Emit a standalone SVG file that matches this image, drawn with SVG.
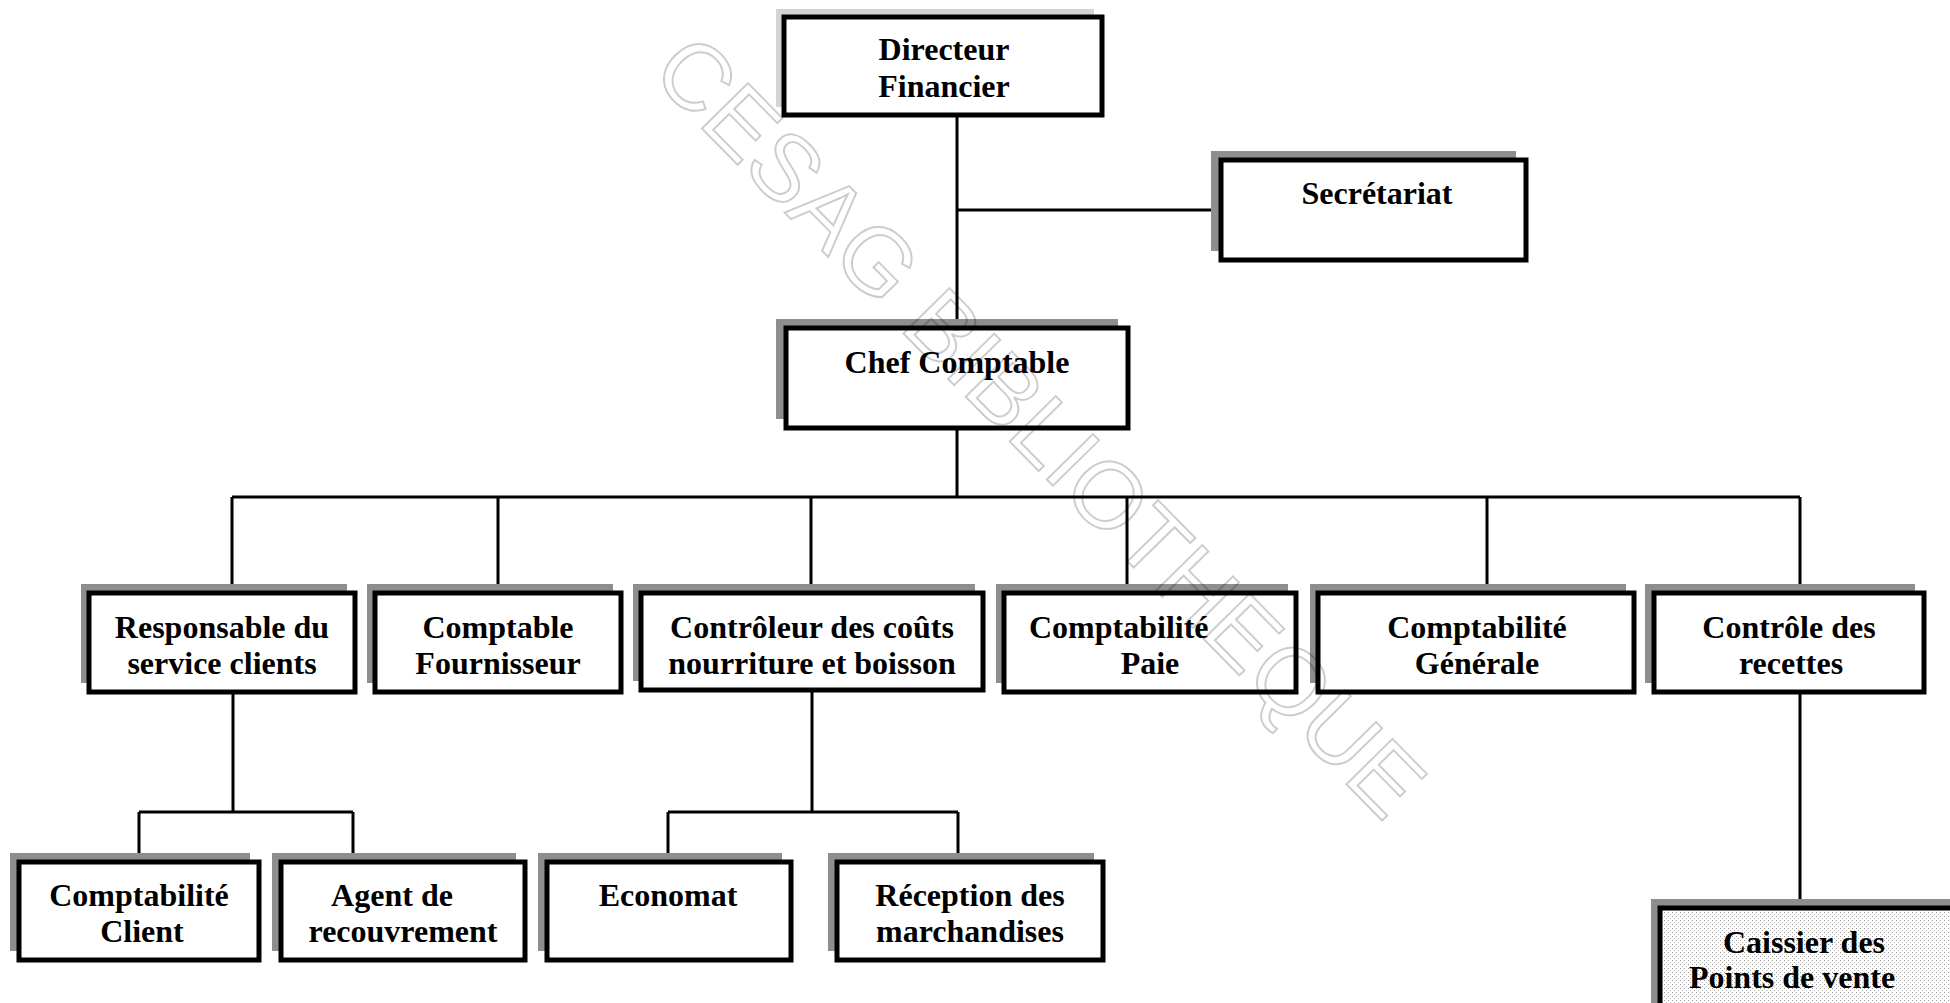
<svg xmlns="http://www.w3.org/2000/svg" width="1950" height="1003" viewBox="0 0 1950 1003">
<style>
.sh{fill:#8e8e8e;stroke:none}
.shl{fill:#d4d4d4;stroke:none}
.bx{fill:#ffffff;stroke:#000;stroke-width:5}
.t{font-family:"Liberation Serif","Times New Roman",serif;font-weight:bold;font-size:32px;fill:#000;text-anchor:middle}
.ts{text-anchor:start}
.cn{fill:none;stroke:#000;stroke-width:3}
.wm{font-family:"Liberation Sans",Arial,sans-serif;font-size:94px;fill:none;stroke:#000;stroke-opacity:0.2;stroke-width:2;text-anchor:middle}
</style>
<defs>
<pattern id="dots" width="4" height="4" patternUnits="userSpaceOnUse">
<rect width="4" height="4" fill="#fff"/>
<rect x="0" y="0" width="1" height="1" fill="#9a9a9a"/>
<rect x="2" y="2" width="1" height="1" fill="#b5b5b5"/>
</pattern>
</defs>
<rect width="1950" height="1003" fill="#fff"/>

<g id="connectors">
<path class="cn" d="M957 115 V328 M957 210 H1221 M957 428 V497 M232 497 H1800 M232 497 V593 M498 497 V593 M811 497 V593 M1127 497 V593 M1487 497 V593 M1800 497 V593"/>
<path class="cn" d="M233 692 V812 M139 812 H353 M139 812 V866 M353 812 V862"/>
<path class="cn" d="M812 690 V812 M668 812 H958 M668 812 V862 M958 812 V862"/>
<path class="cn" d="M1800 692 V908"/>
</g>

<g id="directeur">
<rect class="shl" x="776" y="9" width="318" height="98"/>
<rect class="bx" x="784" y="17" width="318" height="98"/>
<text class="t" x="944" y="60">Directeur</text>
<text class="t" x="944" y="97">Financier</text>
</g>

<g id="secretariat">
<rect class="sh" x="1211" y="151" width="305" height="100"/>
<rect class="bx" x="1221" y="160" width="305" height="100"/>
<text class="t" x="1377" y="204">Secrétariat</text>
</g>

<g id="chef">
<rect class="sh" x="776" y="319" width="342" height="100"/>
<rect class="bx" x="786" y="328" width="342" height="100"/>
<text class="t" x="957" y="373">Chef Comptable</text>
</g>

<g id="responsable">
<rect class="sh" x="81" y="584" width="266" height="99"/>
<rect class="bx" x="89" y="593" width="266" height="99"/>
<text class="t" x="222" y="638">Responsable du</text>
<text class="t" x="222" y="674">service clients</text>
</g>

<g id="fournisseur">
<rect class="sh" x="367" y="584" width="246" height="99"/>
<rect class="bx" x="375" y="593" width="246" height="99"/>
<text class="t" x="498" y="638">Comptable</text>
<text class="t" x="498" y="674">Fournisseur</text>
</g>

<g id="controleur">
<rect class="sh" x="633" y="584" width="342" height="97"/>
<rect class="bx" x="641" y="593" width="342" height="97"/>
<text class="t" x="812" y="638">Contrôleur des coûts</text>
<text class="t" x="812" y="674">nourriture et boisson</text>
</g>

<g id="paie">
<rect class="sh" x="996" y="584" width="292" height="99"/>
<rect class="bx" x="1004" y="593" width="292" height="99"/>
<text class="t ts" x="1029" y="638">Comptabilité</text>
<text class="t" x="1150" y="674">Paie</text>
</g>

<g id="generale">
<rect class="sh" x="1310" y="584" width="316" height="99"/>
<rect class="bx" x="1318" y="593" width="316" height="99"/>
<text class="t" x="1477" y="638">Comptabilité</text>
<text class="t" x="1477" y="674">Générale</text>
</g>

<g id="recettes">
<rect class="sh" x="1645" y="584" width="270" height="99"/>
<rect class="bx" x="1654" y="593" width="270" height="99"/>
<text class="t" x="1789" y="638">Contrôle des</text>
<text class="t" x="1791" y="674">recettes</text>
</g>

<g id="client">
<rect class="sh" x="10" y="853" width="240" height="98"/>
<rect class="bx" x="19" y="862" width="240" height="98"/>
<text class="t" x="139" y="906">Comptabilité</text>
<text class="t" x="142" y="942">Client</text>
</g>

<g id="agent">
<rect class="sh" x="272" y="853" width="244" height="98"/>
<rect class="bx" x="281" y="862" width="244" height="98"/>
<text class="t" x="392" y="906">Agent de</text>
<text class="t" x="403" y="942">recouvrement</text>
</g>

<g id="economat">
<rect class="sh" x="538" y="853" width="244" height="98"/>
<rect class="bx" x="547" y="862" width="244" height="98"/>
<text class="t" x="668" y="906">Economat</text>
</g>

<g id="reception">
<rect class="sh" x="828" y="853" width="266" height="98"/>
<rect class="bx" x="837" y="862" width="266" height="98"/>
<text class="t" x="970" y="906">Réception des</text>
<text class="t" x="970" y="942">marchandises</text>
</g>

<g id="caissier">
<rect class="sh" x="1651" y="899" width="310" height="120"/>
<rect class="bx" x="1660" y="908" width="310" height="120" style="fill:url(#dots)"/>
<text class="t" x="1804" y="953">Caissier des</text>
<text class="t" x="1792" y="988">Points de vente</text>
</g>

<text class="wm" transform="translate(1017 449) rotate(45.5)">CESAG BIBLIOTHEQUE</text>
</svg>
